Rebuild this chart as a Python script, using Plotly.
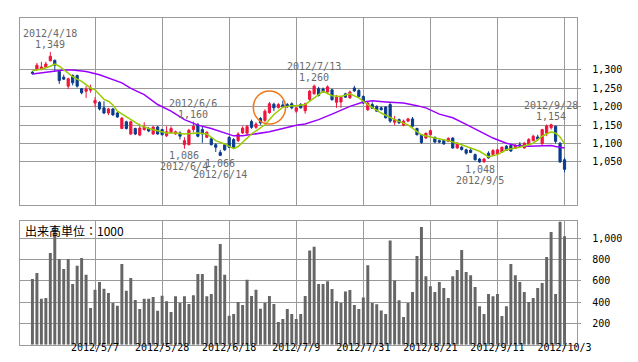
import plotly.graph_objects as go

# ---------------- data ----------------
dates = (
    ["2012/4/%d" % d for d in [12, 13, 16, 17, 18, 19, 20, 23, 24, 25, 26, 27]]
    + ["2012/5/%d" % d for d in [1, 2, 7, 8, 9, 10, 11, 14, 15, 16, 17, 18, 21, 22, 23, 24, 25, 28, 29, 30, 31]]
    + ["2012/6/%d" % d for d in [1, 4, 5, 6, 7, 8, 11, 12, 13, 14, 15, 18, 19, 20, 21, 22, 25, 26, 27, 28, 29]]
    + ["2012/7/%d" % d for d in [2, 3, 4, 5, 6, 9, 10, 11, 12, 13, 17, 18, 19, 20, 23, 24, 25, 26, 27, 30, 31]]
    + ["2012/8/%d" % d for d in [1, 2, 3, 6, 7, 8, 9, 10, 13, 14, 15, 16, 17, 20, 21, 22, 23, 24, 27, 28, 29, 30, 31]]
    + ["2012/9/%d" % d for d in [3, 4, 5, 6, 7, 10, 11, 12, 13, 14, 18, 19, 20, 21, 24, 25, 26, 27, 28]]
    + ["2012/10/%d" % d for d in [1, 2, 3]]
)

opens = [1294, 1301, 1301, 1307, 1325, 1326, 1296, 1280, 1256, 1285,
         1285, 1249, 1242, 1245, 1210, 1212, 1197, 1183, 1194, 1183,
         1141, 1159, 1126, 1141, 1123, 1138, 1141, 1126, 1145, 1138,
         1121, 1130, 1126, 1129, 1097, 1097, 1138, 1151, 1138, 1117,
         1113, 1097, 1076, 1097, 1117, 1111, 1108, 1129, 1128, 1160,
         1144, 1168, 1163, 1184, 1207, 1198, 1205, 1206, 1208, 1188,
         1206, 1189, 1220, 1235, 1249, 1248, 1240, 1246, 1212, 1213,
         1235, 1224, 1251, 1244, 1228, 1192, 1206, 1201, 1197, 1199,
         1206, 1158, 1165, 1150, 1161, 1167, 1141, 1124, 1115, 1124,
         1117, 1108, 1108, 1106, 1115, 1088, 1090, 1083, 1082, 1070,
         1058, 1050, 1074, 1070, 1072, 1077, 1093, 1095, 1087, 1097,
         1088, 1097, 1108, 1118, 1100, 1128, 1143, 1147, 1101, 1056]
highs = [1297, 1319, 1322, 1322, 1349, 1328, 1298, 1287, 1279, 1288,
         1287, 1251, 1256, 1260, 1226, 1215, 1215, 1197, 1197, 1186,
         1172, 1162, 1162, 1143, 1154, 1158, 1145, 1147, 1148, 1140,
         1147, 1147, 1135, 1133, 1117, 1140, 1160, 1156, 1147, 1133,
         1117, 1101, 1083, 1101, 1120, 1115, 1131, 1147, 1151, 1165,
         1158, 1172, 1193, 1213, 1211, 1210, 1217, 1210, 1212, 1199,
         1210, 1211, 1246, 1260, 1254, 1252, 1258, 1249, 1232, 1230,
         1238, 1244, 1257, 1248, 1231, 1213, 1212, 1204, 1201, 1202,
         1210, 1175, 1168, 1165, 1170, 1172, 1143, 1126, 1130, 1138,
         1119, 1111, 1110, 1117, 1117, 1104, 1093, 1086, 1088, 1073,
         1061, 1061, 1079, 1085, 1086, 1092, 1096, 1097, 1098, 1104,
         1104, 1115, 1124, 1124, 1140, 1152, 1154, 1149, 1104, 1062]
lows = [1287, 1299, 1299, 1305, 1323, 1296, 1262, 1273, 1248, 1258,
        1252, 1234, 1224, 1238, 1199, 1190, 1180, 1177, 1175, 1170,
        1141, 1138, 1123, 1123, 1120, 1135, 1131, 1124, 1124, 1122,
        1118, 1127, 1124, 1111, 1086, 1095, 1130, 1117, 1102, 1115,
        1095, 1077, 1066, 1080, 1088, 1086, 1104, 1126, 1124, 1140,
        1140, 1151, 1158, 1181, 1188, 1195, 1197, 1197, 1193, 1183,
        1195, 1181, 1215, 1233, 1228, 1238, 1238, 1217, 1197, 1197,
        1224, 1222, 1240, 1226, 1208, 1188, 1194, 1186, 1190, 1168,
        1156, 1150, 1154, 1147, 1158, 1144, 1122, 1099, 1113, 1122,
        1101, 1101, 1097, 1104, 1086, 1086, 1081, 1070, 1074, 1054,
        1048, 1049, 1059, 1068, 1070, 1075, 1080, 1077, 1085, 1090,
        1086, 1095, 1106, 1108, 1093, 1120, 1138, 1100, 1048, 1022]
closes = [1291, 1313, 1308, 1316, 1337, 1313, 1271, 1275, 1276, 1265,
          1256, 1238, 1248, 1251, 1217, 1194, 1183, 1194, 1178, 1172,
          1169, 1141, 1159, 1126, 1142, 1145, 1134, 1145, 1126, 1124,
          1132, 1141, 1132, 1120, 1108, 1136, 1147, 1120, 1126, 1131,
          1097, 1090, 1068, 1083, 1090, 1090, 1126, 1142, 1146, 1144,
          1153, 1156, 1188, 1208, 1197, 1206, 1200, 1200, 1197, 1197,
          1197, 1208, 1242, 1256, 1231, 1240, 1254, 1219, 1226, 1226,
          1226, 1240, 1243, 1228, 1210, 1210, 1196, 1188, 1192, 1170,
          1161, 1165, 1156, 1161, 1167, 1147, 1124, 1103, 1128, 1135,
          1104, 1104, 1099, 1114, 1088, 1101, 1084, 1074, 1076, 1056,
          1050, 1058, 1061, 1081, 1083, 1090, 1082, 1080, 1096, 1093,
          1101, 1111, 1120, 1112, 1138, 1148, 1151, 1106, 1050, 1030]
volumes = [616, 673, 432, 438, 860, 1110, 804, 710, 804, 569,
           741, 813, 657, 344, 516, 588, 525, 485, 391, 366,
           757, 507, 626, 419, 335, 432, 432, 447, 319, 460,
           407, 307, 454, 391, 454, 382, 463, 663, 663, 454,
           476, 741, 945, 657, 272, 288, 401, 372, 610, 457,
           516, 338, 394, 457, 382, 213, 241, 335, 288, 241,
           288, 457, 882, 917, 569, 569, 594, 522, 407, 391,
           500, 513, 372, 335, 444, 744, 391, 379, 322, 288,
           976, 601, 416, 260, 391, 494, 832, 1104, 641, 548,
           494, 588, 532, 438, 641, 701, 888, 682, 651, 541,
           360, 288, 476, 454, 476, 269, 360, 757, 651, 588,
           494, 401, 438, 532, 579, 823, 1057, 476, 1151, 1017]

# short moving average (green)
ma_short_dates = ["2012/4/12", "2012/4/16", "2012/4/18", "2012/4/19", "2012/4/20", "2012/4/23",
                  "2012/4/25", "2012/4/26", "2012/4/27", "2012/5/1", "2012/5/2", "2012/5/7",
                  "2012/5/8", "2012/5/9", "2012/5/10", "2012/5/11", "2012/5/14", "2012/5/17",
                  "2012/5/21", "2012/5/23", "2012/5/25", "2012/5/29", "2012/5/31", "2012/6/4",
                  "2012/6/7", "2012/6/11", "2012/6/13", "2012/6/15", "2012/6/19", "2012/6/20",
                  "2012/6/25", "2012/6/28", "2012/7/2", "2012/7/4", "2012/7/6", "2012/7/9",
                  "2012/7/11", "2012/7/12", "2012/7/13", "2012/7/18", "2012/7/19", "2012/7/20",
                  "2012/7/24", "2012/7/26", "2012/7/30", "2012/8/1", "2012/8/6", "2012/8/9",
                  "2012/8/14", "2012/8/17", "2012/8/22", "2012/8/27", "2012/8/30", "2012/9/5",
                  "2012/9/7", "2012/9/11", "2012/9/13", "2012/9/19", "2012/9/24", "2012/9/26",
                  "2012/9/28", "2012/10/1", "2012/10/2", "2012/10/3"]
ma_short_vals = [1298, 1302, 1310, 1316, 1310, 1300, 1282, 1275, 1269, 1260, 1251, 1246,
                 1233, 1220, 1215, 1205, 1188, 1165, 1150, 1141, 1134, 1129, 1129, 1126,
                 1129, 1126, 1108, 1099, 1086, 1092, 1126, 1151, 1179, 1199, 1203, 1203,
                 1206, 1215, 1226, 1242, 1236, 1230, 1228, 1235, 1224, 1206, 1183, 1165,
                 1151, 1124, 1115, 1108, 1097, 1079, 1064, 1070, 1083, 1090, 1101, 1120,
                 1132, 1128, 1118, 1099]

# long moving average (purple)
ma_long_dates = ["2012/4/12", "2012/4/18", "2012/4/23", "2012/4/25", "2012/5/1", "2012/5/8",
                 "2012/5/10", "2012/5/15", "2012/5/17", "2012/5/22", "2012/5/25", "2012/5/30",
                 "2012/6/4", "2012/6/7", "2012/6/12", "2012/6/15", "2012/6/19", "2012/6/21",
                 "2012/6/25", "2012/6/29", "2012/7/4", "2012/7/9", "2012/7/11", "2012/7/17",
                 "2012/7/20", "2012/7/26", "2012/7/31", "2012/8/2", "2012/8/7", "2012/8/13",
                 "2012/8/16", "2012/8/20", "2012/8/23", "2012/8/28", "2012/8/31", "2012/9/5",
                 "2012/9/10", "2012/9/13", "2012/9/18", "2012/9/21", "2012/9/26", "2012/9/28",
                 "2012/10/1", "2012/10/3"]
ma_long_vals = [1289, 1295, 1300, 1300, 1296, 1287, 1278, 1265, 1250, 1233, 1206, 1188,
                1165, 1150, 1141, 1128, 1121, 1121, 1124, 1132, 1141, 1150, 1153, 1165,
                1180, 1201, 1213, 1216, 1213, 1210, 1203, 1197, 1180, 1170, 1152, 1133,
                1115, 1101, 1095, 1093, 1093, 1095, 1092, 1088]

high_marks = [("2012/4/18", 1349), ("2012/6/6", 1160), ("2012/7/13", 1260), ("2012/9/28", 1154)]
low_marks = [("2012/6/4", 1086), ("2012/6/14", 1066), ("2012/9/5", 1048)]

price_ticks = [1050, 1100, 1150, 1200, 1250, 1300]
volume_ticks = [200, 400, 600, 800, 1000]
date_ticks = ["2012/5/7", "2012/5/28", "2012/6/18", "2012/7/9", "2012/7/31",
              "2012/8/21", "2012/9/11", "2012/10/3"]

# ---------------- styling ----------------
W, H = 638, 362
px_x = lambda p: p / W
px_y = lambda p: 1 - p / H
GRID = "#9a9a9a"
RED = "#f0143c"
BLUE = "#0a3c8c"
GREEN = "#99cc00"
PURPLE = "#9a00ff"
LABEL = "#6a6a6a"
FONT = "DejaVu Sans Mono, Noto Sans CJK JP, monospace"

fig = go.Figure()
fig.add_trace(go.Bar(x=dates, y=volumes, marker=dict(color="#666666", line=dict(width=0)),
                     xaxis="x2", yaxis="y2", width=0.66, hoverinfo="skip"))
fig.add_trace(go.Scatter(x=ma_long_dates, y=ma_long_vals, mode="lines",
                         line=dict(color=PURPLE, width=1.5), hoverinfo="skip"))
fig.add_trace(go.Scatter(x=ma_short_dates, y=ma_short_vals, mode="lines",
                         line=dict(color=GREEN, width=1.5), hoverinfo="skip"))
fig.add_trace(go.Candlestick(
    x=dates, open=opens, high=highs, low=lows, close=closes,
    increasing=dict(line=dict(color=RED, width=1), fillcolor=RED),
    decreasing=dict(line=dict(color=BLUE, width=1), fillcolor=BLUE),
    whiskerwidth=0, hoverinfo="skip"))

xr = [-2.84, 121.84]
common_x = dict(type="category", categoryorder="array", categoryarray=dates, range=xr,
                tickvals=date_ticks, showgrid=True, gridcolor=GRID, gridwidth=1,
                showline=True, mirror=True, linecolor=GRID, linewidth=1, zeroline=False,
                domain=[px_x(12), px_x(582)], fixedrange=True)
fig.update_layout(
    width=W, height=H, margin=dict(l=0, r=0, t=0, b=0),
    paper_bgcolor="white", plot_bgcolor="white", showlegend=False,
    font=dict(family=FONT, size=10, color="black"),
    boxgap=0.3,
    xaxis=dict(common_x, anchor="y", showticklabels=False, ticks="",
               rangeslider=dict(visible=False)),
    yaxis=dict(anchor="x", side="right", domain=[px_y(196.7), px_y(10)], range=[934, 1441],
               tickvals=price_ticks, ticktext=[f"{v:,}" for v in price_ticks],
               showgrid=True, gridcolor=GRID, showline=True, mirror=True, linecolor=GRID,
               ticks="outside", ticklen=3, tickcolor=GRID, zeroline=False, fixedrange=True,
               ticklabelstandoff=9),
    xaxis2=dict(common_x, anchor="y2", ticktext=date_ticks, ticks="outside", ticklen=3,
                tickcolor=GRID, ticklabelstandoff=-10),
    yaxis2=dict(anchor="x2", side="right", domain=[px_y(336.8), px_y(212.7)], range=[0, 1162],
                tickvals=volume_ticks, ticktext=[f"{v:,}" for v in volume_ticks],
                showgrid=True, gridcolor=GRID, showline=True, mirror=True, linecolor=GRID,
                ticks="outside", ticklen=3, tickcolor=GRID, zeroline=False, fixedrange=True,
                ticklabelstandoff=9),
)

# orange circle marking the crossover (around late June)
ci = dates.index("2012/6/29")
fig.add_shape(type="circle", xref="x", yref="y", x0=ci - 3.6, x1=ci + 3.6, y0=1153, y1=1243,
              line=dict(color="#f07818", width=1.5))

for d, v in high_marks:
    fig.add_annotation(x=d, y=v, xref="x", yref="y", text=f"{v:,}", showarrow=False,
                       yanchor="middle", yshift=7, font=dict(color=LABEL, size=10, family=FONT))
    fig.add_annotation(x=d, y=v, xref="x", yref="y", text=d, showarrow=False,
                       yanchor="middle", yshift=18, font=dict(color=LABEL, size=10, family=FONT))
for d, v in low_marks:
    fig.add_annotation(x=d, y=v, xref="x", yref="y", text=f"{v:,}", showarrow=False,
                       yanchor="middle", yshift=-7, font=dict(color=LABEL, size=10, family=FONT))
    fig.add_annotation(x=d, y=v, xref="x", yref="y", text=d, showarrow=False,
                       yanchor="middle", yshift=-18, font=dict(color=LABEL, size=10, family=FONT))

fig.add_annotation(x=px_x(15), y=px_y(222), xref="paper", yref="paper", text="出来高単位：1000",
                   showarrow=False, xanchor="left", yanchor="middle",
                   font=dict(family="Noto Sans CJK JP", size=12, color="black"))

fig.write_html("out.html", config={"displayModeBar": False})
